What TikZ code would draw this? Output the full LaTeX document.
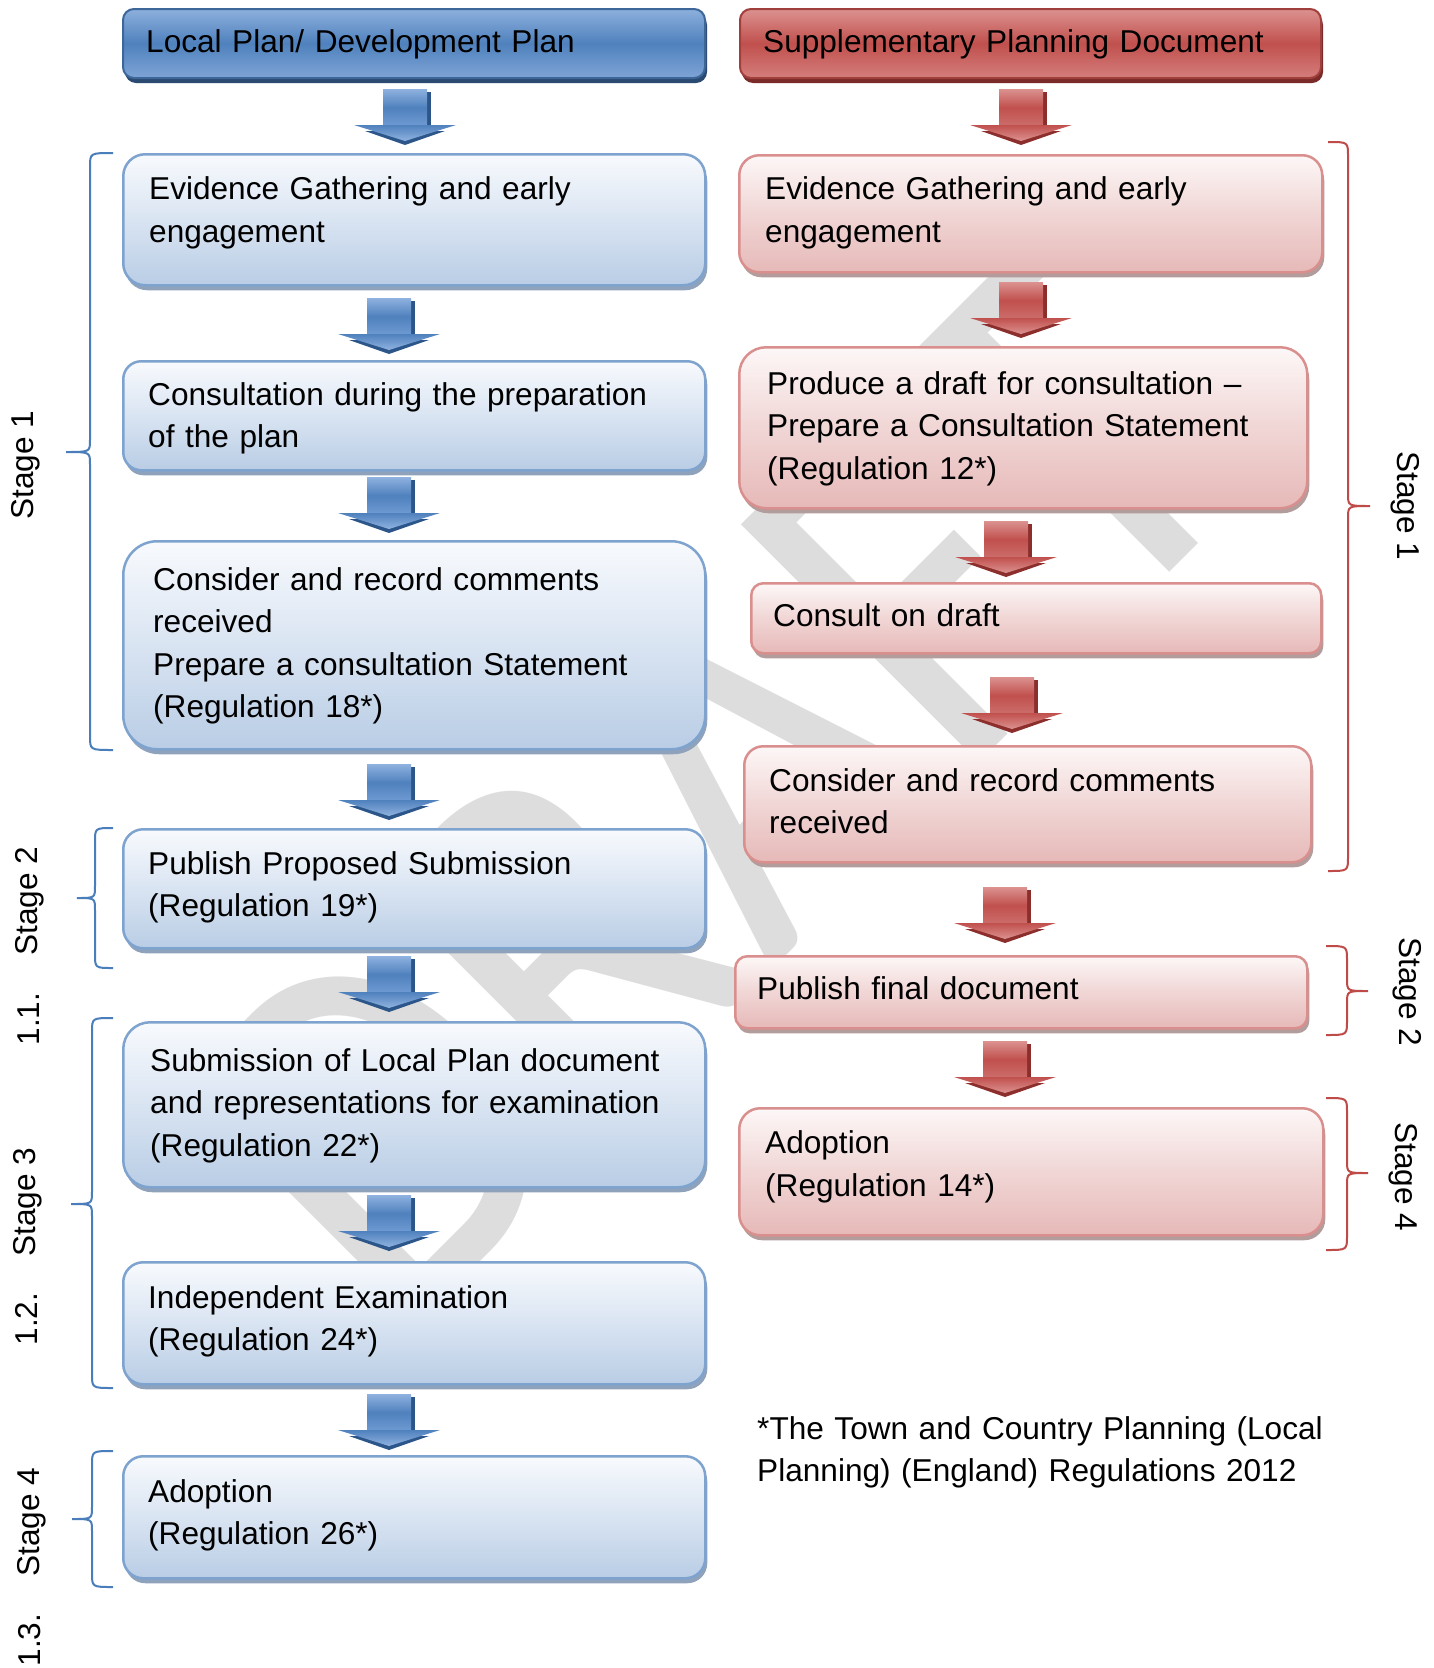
\documentclass[tikz,border=0pt]{standalone}
\usepackage{fontspec}
\setmainfont{Liberation Sans}
\newfontfamily\wmfont{Carlito}
\usetikzlibrary{calc}
\definecolor{bluefillT}{HTML}{F8FAFD}
\definecolor{bluefillM}{HTML}{D9E4F2}
\definecolor{bluefillB}{HTML}{B9CDE5}
\definecolor{blueline}{HTML}{7EA3CF}
\definecolor{blueshadow}{HTML}{8FA2BC}
\definecolor{hdrblueT}{HTML}{8DB0DD}
\definecolor{hdrblueM}{HTML}{4F81BD}
\definecolor{hdrblueB}{HTML}{7FA4D6}
\definecolor{hdrblueline}{HTML}{3D6799}
\definecolor{hdrblueshadow}{HTML}{2B4A72}
\definecolor{redfillT}{HTML}{FDF7F7}
\definecolor{redfillM}{HTML}{F0D6D5}
\definecolor{redfillB}{HTML}{E6B9B8}
\definecolor{redline}{HTML}{D98F8D}
\definecolor{redshadow}{HTML}{B39C9C}
\definecolor{hdrredT}{HTML}{DC9290}
\definecolor{hdrredM}{HTML}{C0504D}
\definecolor{hdrredB}{HTML}{D47E7C}
\definecolor{hdrredline}{HTML}{A03F3C}
\definecolor{hdrredshadow}{HTML}{7A2A28}
\definecolor{wmgray}{HTML}{DDDDDD}
\definecolor{braceblue}{HTML}{4A7EBB}
\definecolor{bracered}{HTML}{BE4B48}
\definecolor{barlight}{HTML}{8FB2E0}
\definecolor{barmain}{HTML}{4F81BD}
\definecolor{barlighttwo}{HTML}{6F9AD2}
\definecolor{bardark}{HTML}{2C568A}
\definecolor{rarlight}{HTML}{DC9290}
\definecolor{rarmain}{HTML}{C0504D}
\definecolor{rarlighttwo}{HTML}{CC6E6B}
\definecolor{rardark}{HTML}{8B2E2C}

% block arrow: x, y (top centre), colour prefix
\newcommand\blockarrow[3]{%
  \begin{scope}[shift={(#1,#2)}]
    \fill[#3dark] (22,3) rectangle (26,37);
    \path[top color=#3light, bottom color=#3lighttwo, middle color=#3main] (-22,0) rectangle (22,37);
    \fill[#3dark] (-40,42) -- (40,42) -- (0,56) -- cycle;
    \path[top color=#3main, bottom color=#3light] (-51,36) -- (51,36) -- (0,52) -- cycle;
  \end{scope}}

% brace: tip x, top y, bottom y, spine x, cusp x, cusp y, style
\newcommand\stagebrace[7]{%
  \draw[#7] (#1,#2) .. controls (#4,#2) .. (#4,#2+14) -- (#4,#6-12)
    .. controls (#4,#6) .. (#5,#6) .. controls (#4,#6) .. (#4,#6+12)
    -- (#4,#3-14) .. controls (#4,#3) .. (#1,#3);}

\begin{document}
\begin{tikzpicture}[x=1pt,y=-1pt,
  txt/.style={inner sep=0pt, anchor=base west, text width=#1, align=left,
              font=\fontsize{31.6}{42.5}\selectfont},
  txt/.default=560pt,
  lbl/.style={inner sep=0pt, anchor=base, font=\fontsize{31.6}{38}\selectfont},
  lbox/.style={draw=blueline, line width=2.5pt, rounded corners=#1,
               top color=bluefillT, bottom color=bluefillB, middle color=bluefillM,
               anchor=north west, inner sep=0pt,
               preaction={fill=blueshadow, transform canvas={shift={(2pt,-5pt)}}}},
  rbox/.style={draw=redline, line width=2.5pt, rounded corners=#1,
               top color=redfillT, bottom color=redfillB, middle color=redfillM,
               anchor=north west, inner sep=0pt,
               preaction={fill=redshadow, transform canvas={shift={(2pt,-5pt)}}}},
  lhdr/.style={draw=hdrblueline, line width=2pt, rounded corners=11pt,
               top color=hdrblueT, bottom color=hdrblueB, middle color=hdrblueM,
               anchor=north west, inner sep=0pt,
               preaction={fill=hdrblueshadow, transform canvas={shift={(2pt,-5pt)}}}},
  rhdr/.style={draw=hdrredline, line width=2pt, rounded corners=11pt,
               top color=hdrredT, bottom color=hdrredB, middle color=hdrredM,
               anchor=north west, inner sep=0pt,
               preaction={fill=hdrredshadow, transform canvas={shift={(2pt,-5pt)}}}},
  lbr/.style={draw=braceblue, line width=2pt},
  rbr/.style={draw=bracered, line width=2pt}
]
\useasboundingbox (0,0) rectangle (1434,1668);
\fill[white] (0,0) rectangle (1434,1668);

% watermark
\node[font=\wmfont\fontsize{456}{456}\selectfont, text=wmgray, rotate=45, yscale=1.15,
      anchor=base west, inner sep=0pt] (wm) at (397,1345) {DRAFT};

% ---------- left column ----------
\node[lhdr, minimum width=582pt, minimum height=69pt] (lh) at (122,8) {};
\node[lbox=22pt, minimum width=582pt, minimum height=131pt] (l1) at (122,153) {};
\node[lbox=18pt, minimum width=582pt, minimum height=109pt] (l2) at (122,360) {};
\node[lbox=34pt, minimum width=582pt, minimum height=208pt] (l3) at (122,540) {};
\node[lbox=20pt, minimum width=582pt, minimum height=119pt] (l4) at (122,828) {};
\node[lbox=27pt, minimum width=582pt, minimum height=165pt] (l5) at (122,1021) {};
\node[lbox=20pt, minimum width=582pt, minimum height=122pt] (l6) at (122,1261) {};
\node[lbox=20pt, minimum width=582pt, minimum height=122pt] (l7) at (122,1455) {};

\node[txt] (lht) at (146,52) {Local Plan/ Development Plan};
\node[txt] (l1t) at (149,199.5) {Evidence Gathering and early\\engagement};
\node[txt] (l2t) at (148,405) {Consultation during the preparation\\of the plan};
\node[txt] (l3t) at (153,590) {Consider and record comments\\received\\Prepare a consultation Statement\\(Regulation 18*)};
\node[txt] (l4t) at (148,874) {Publish Proposed Submission\\(Regulation 19*)};
\node[txt] (l5t) at (150,1071) {Submission of Local Plan document\\and representations for examination\\(Regulation 22*)};
\node[txt] (l6t) at (148,1308) {Independent Examination\\(Regulation 24*)};
\node[txt] (l7t) at (148,1502) {Adoption\\(Regulation 26*)};

\blockarrow{405}{89}{bar}
\blockarrow{389}{298}{bar}
\blockarrow{389}{477}{bar}
\blockarrow{389}{764}{bar}
\blockarrow{389}{956}{bar}
\blockarrow{389}{1195}{bar}
\blockarrow{389}{1394}{bar}

% ---------- right column ----------
\node[rhdr, minimum width=581pt, minimum height=69pt] (rh) at (739,8) {};
\node[rbox=20pt, minimum width=583pt, minimum height=117pt] (r1) at (738,154) {};
\node[rbox=27pt, minimum width=568pt, minimum height=161pt] (r2) at (738,346) {};
\node[rbox=12pt, minimum width=570pt, minimum height=70pt] (r3) at (750,582) {};
\node[rbox=19pt, minimum width=567pt, minimum height=116pt] (r4) at (743,745) {};
\node[rbox=12pt, minimum width=572pt, minimum height=72pt] (r5) at (734,955) {};
\node[rbox=21pt, minimum width=584pt, minimum height=127pt] (r6) at (738,1107) {};

\node[txt] (rht) at (763,52) {Supplementary Planning Document};
\node[txt] (r1t) at (765,199.5) {Evidence Gathering and early\\engagement};
\node[txt] (r2t) at (767,394) {Produce a draft for consultation \textendash\\Prepare a Consultation Statement\\(Regulation 12*)};
\node[txt] (r3t) at (773,626) {Consult on draft};
\node[txt] (r4t) at (769,791) {Consider and record comments\\received};
\node[txt] (r5t) at (757,999) {Publish final document};
\node[txt] (r6t) at (765,1153.5) {Adoption\\(Regulation 14*)};

\blockarrow{1021}{89}{rar}
\blockarrow{1021}{282}{rar}
\blockarrow{1006}{521}{rar}
\blockarrow{1012}{677}{rar}
\blockarrow{1005}{887}{rar}
\blockarrow{1005}{1041}{rar}

\node[txt=640pt] (note) at (757,1439) {*The Town and Country Planning (Local\\Planning) (England) Regulations 2012};

% ---------- braces ----------
\stagebrace{113}{153}{750}{90}{66}{452}{lbr}
\stagebrace{113}{828}{968}{95}{77}{898}{lbr}
\stagebrace{113}{1018}{1388}{92}{71}{1204}{lbr}
\stagebrace{113}{1451}{1587}{92}{72}{1519}{lbr}

\stagebrace{1328}{142}{871}{1348}{1370}{506}{rbr}
\stagebrace{1326}{946}{1035}{1347}{1368}{991}{rbr}
\stagebrace{1326}{1098}{1250}{1347}{1368}{1173}{rbr}

% ---------- stage labels ----------
\node[lbl, rotate=90] (ls1) at (34,465) {Stage 1};
\node[lbl, rotate=90] (ls2) at (37,901) {Stage 2};
\node[lbl, rotate=90] (ln11) at (39,1019) {1.1.};
\node[lbl, rotate=90] (ls3) at (35,1202) {Stage 3};
\node[lbl, rotate=90] (ln12) at (37,1319) {1.2.};
\node[lbl, rotate=90] (ls4) at (39,1522) {Stage 4};
\node[lbl, rotate=90] (ln13) at (40,1640) {1.3.};

\node[lbl, rotate=-90] (rs1) at (1397,506) {Stage 1};
\node[lbl, rotate=-90] (rs2) at (1399,992) {Stage 2};
\node[lbl, rotate=-90] (rs4) at (1395,1177) {Stage 4};
\end{tikzpicture}
\end{document}
